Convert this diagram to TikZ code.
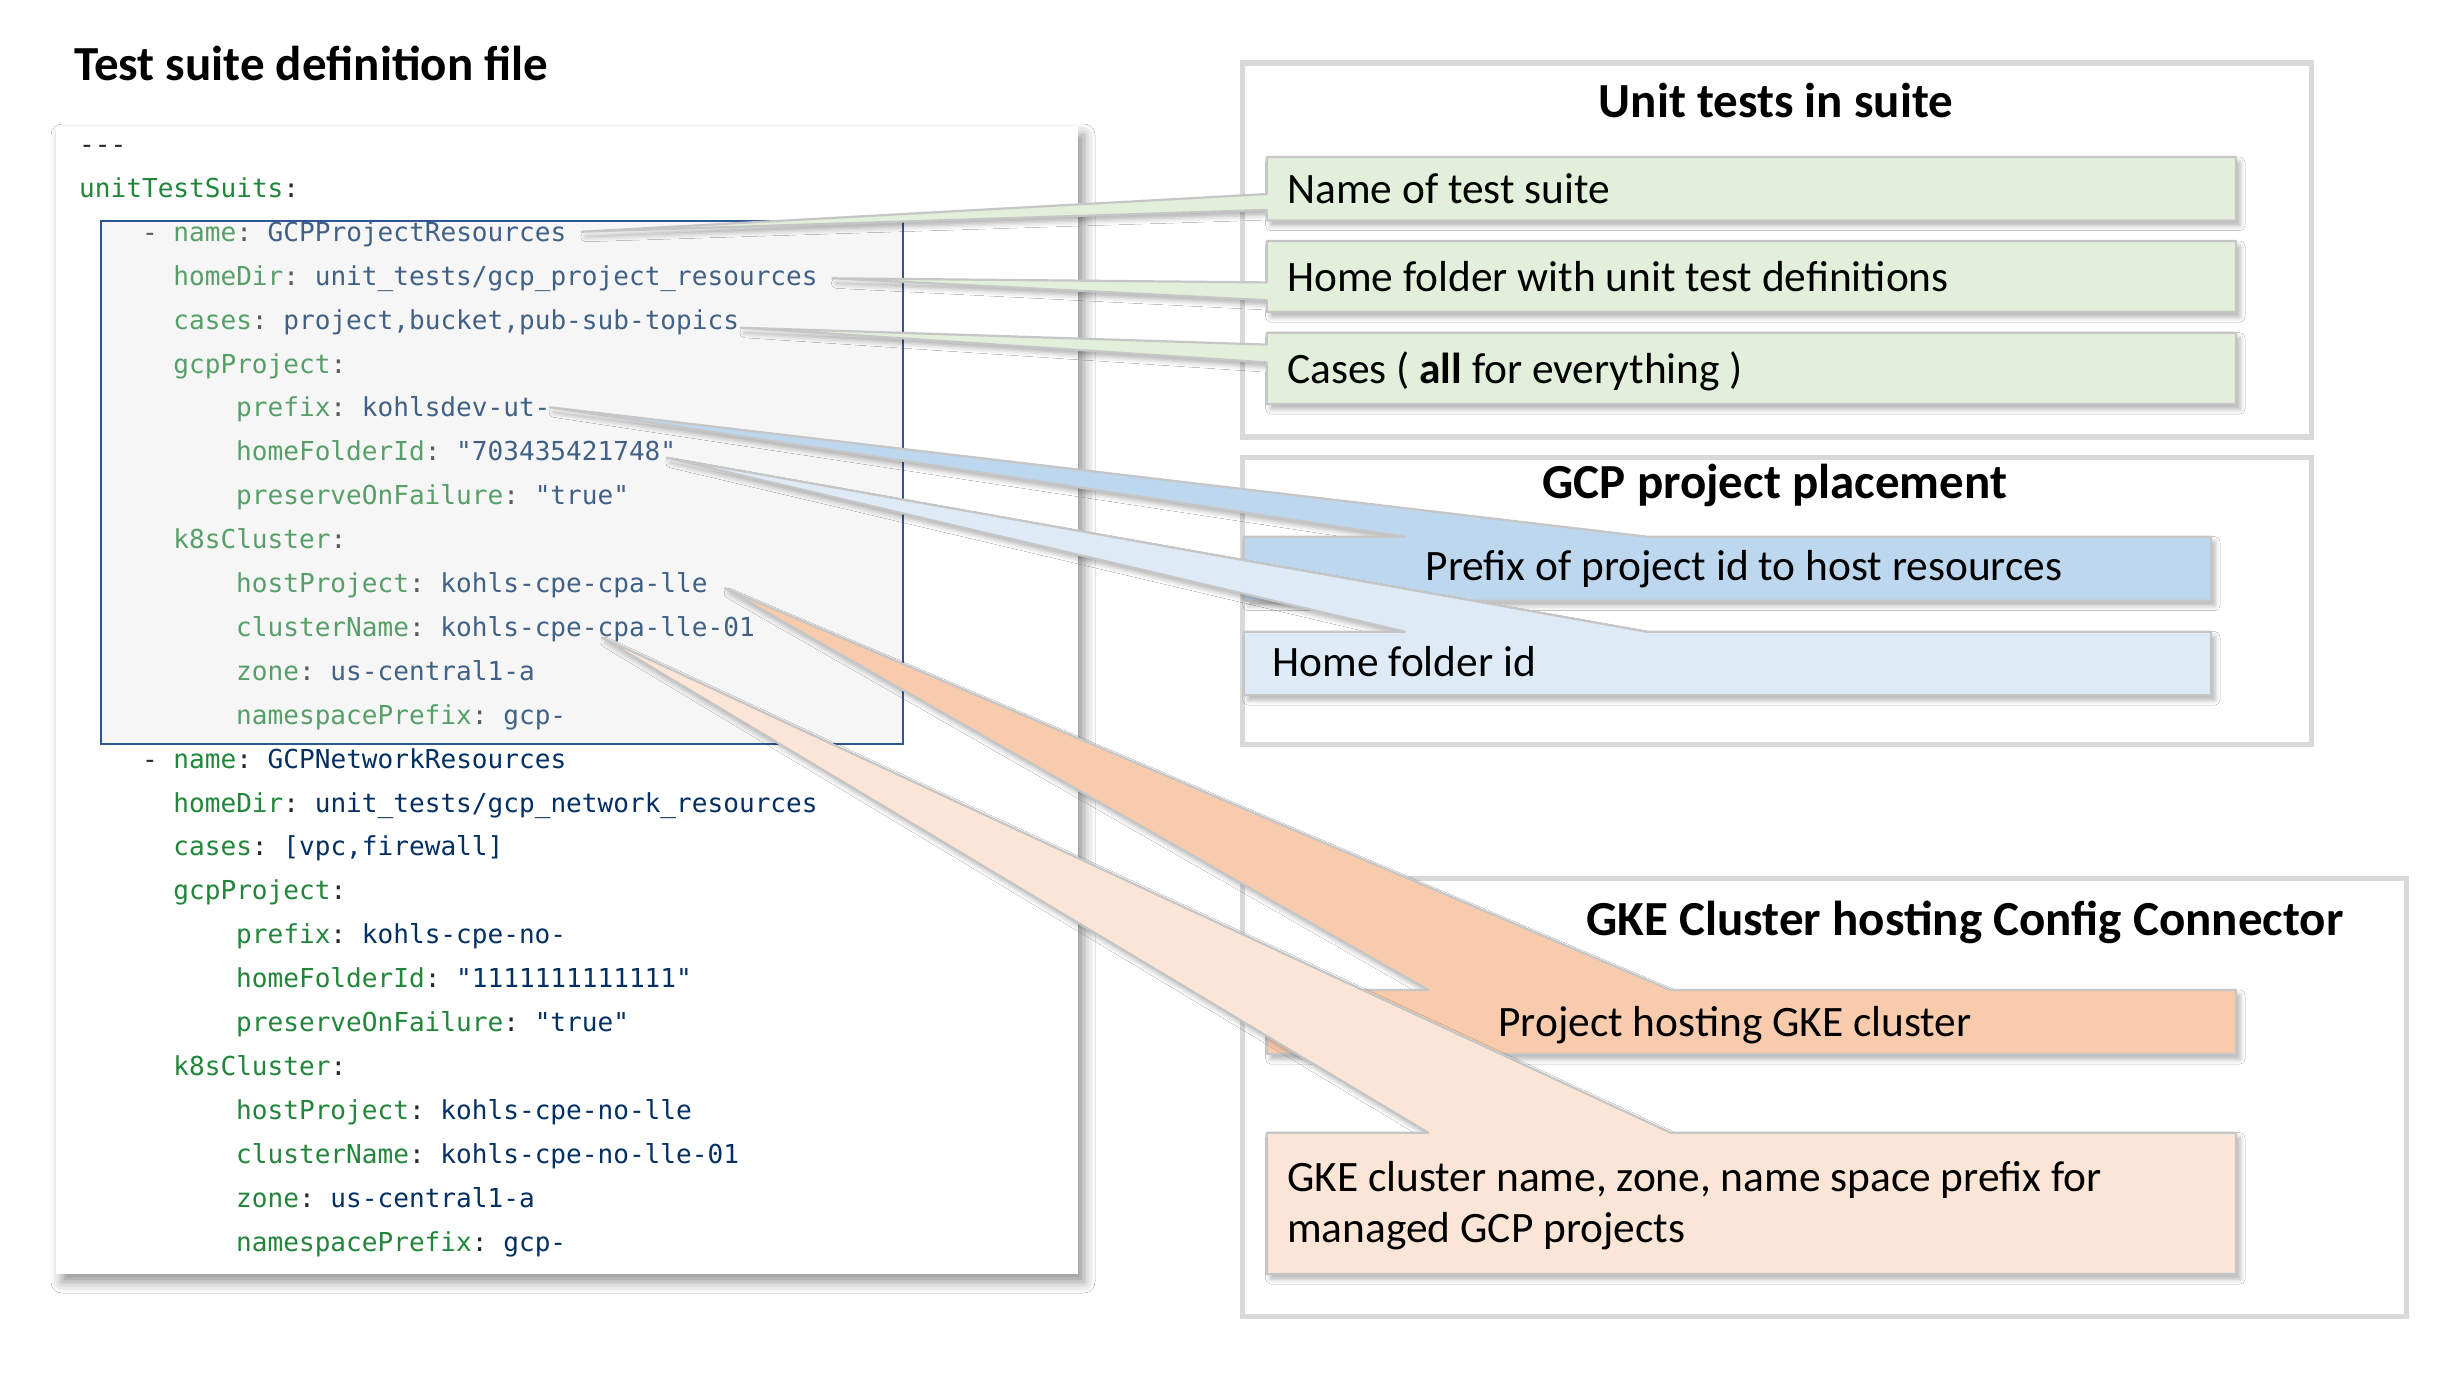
\documentclass[tikz,border=0pt]{standalone}
\usepackage{fontspec}
\setmainfont{Carlito}
\setmonofont{DejaVu Sans Mono}
\usetikzlibrary{calc,shadows.blur}
\definecolor{kgreen}{HTML}{22863A}
\definecolor{vnavy}{HTML}{032F62}
\definecolor{pcol}{HTML}{24292E}
\definecolor{navyb}{HTML}{2F5597}
\definecolor{pgray}{HTML}{D9D9D9}
\definecolor{ogray}{HTML}{C6C6C6}
\definecolor{cgreen}{HTML}{E2EFDA}
\definecolor{cblue}{HTML}{BDD7EE}
\definecolor{clblue}{HTML}{DEEBF7}
\definecolor{corange}{HTML}{F8CBAD}
\definecolor{clorange}{HTML}{FBE5D6}
\definecolor{ovl}{HTML}{E2E2E2}
\newcommand{\ykey}[1]{\textcolor{kgreen}{#1}}
\newcommand{\yval}[1]{\textcolor{vnavy}{#1}}
\newcommand{\ycol}[1]{\textcolor{pcol}{#1}}
\newcommand{\codeln}[3]{\node[code] (c#1) at ({79+15.7*#2},{153.5+43.9*#1}) {#3};}
\begin{document}
\begin{tikzpicture}[x=1pt,y=-1pt,
  code/.style={font=\ttfamily\fontsize{26.1}{30}\selectfont, anchor=base west, inner sep=0pt},
  ttl/.style={font=\fontsize{49}{58}\selectfont\bfseries, inner sep=0pt},
  btxt/.style={font=\fontsize{43.4}{52}\selectfont, inner sep=0pt},
  geo/.style={inner sep=0pt, outer sep=0pt, anchor=north west},
  panel/.style={geo, draw=pgray, line width=5.5pt},
  codebox/.style={geo, fill=white, blur shadow={shadow xshift=6pt, shadow yshift=-8pt, shadow blur radius=11pt, shadow opacity=42}},
  innerbox/.style={geo, draw=navyb, line width=2.2pt, fill=ovl, fill opacity=0.28},
  callout/.style={draw=ogray, line width=2.2pt, line join=round, blur shadow={shadow xshift=4pt, shadow yshift=-5pt, shadow blur radius=5pt, shadow opacity=30}}
]
\useasboundingbox (0,0) rectangle (2452,1376);
\fill[white] (0,0) rectangle (2452,1376);

% left title
\node[ttl, anchor=base west] (ttl1) at (74,80) {Test suite definition file};

% code box
\node[codebox, minimum width=1022pt, minimum height=1147pt] (cb) at (56,127) {};
\codeln{0}{0}{\ycol{---}}
\codeln{1}{0}{\ykey{unitTestSuits}\ycol{:}}
\codeln{2}{4}{\ycol{-} \ykey{name}\ycol{:} \yval{GCPProjectResources}}
\codeln{3}{6}{\ykey{homeDir}\ycol{:} \yval{unit\_tests/gcp\_project\_resources}}
\codeln{4}{6}{\ykey{cases}\ycol{:} \yval{project,bucket,pub-sub-topics}}
\codeln{5}{6}{\ykey{gcpProject}\ycol{:}}
\codeln{6}{10}{\ykey{prefix}\ycol{:} \yval{kohlsdev-ut-}}
\codeln{7}{10}{\ykey{homeFolderId}\ycol{:} \yval{"703435421748"}}
\codeln{8}{10}{\ykey{preserveOnFailure}\ycol{:} \yval{"true"}}
\codeln{9}{6}{\ykey{k8sCluster}\ycol{:}}
\codeln{10}{10}{\ykey{hostProject}\ycol{:} \yval{kohls-cpe-cpa-lle}}
\codeln{11}{10}{\ykey{clusterName}\ycol{:} \yval{kohls-cpe-cpa-lle-01}}
\codeln{12}{10}{\ykey{zone}\ycol{:} \yval{us-central1-a}}
\codeln{13}{10}{\ykey{namespacePrefix}\ycol{:} \yval{gcp-}}
\codeln{14}{4}{\ycol{-} \ykey{name}\ycol{:} \yval{GCPNetworkResources}}
\codeln{15}{6}{\ykey{homeDir}\ycol{:} \yval{unit\_tests/gcp\_network\_resources}}
\codeln{16}{6}{\ykey{cases}\ycol{:} \yval{[vpc,firewall]}}
\codeln{17}{6}{\ykey{gcpProject}\ycol{:}}
\codeln{18}{10}{\ykey{prefix}\ycol{:} \yval{kohls-cpe-no-}}
\codeln{19}{10}{\ykey{homeFolderId}\ycol{:} \yval{"1111111111111"}}
\codeln{20}{10}{\ykey{preserveOnFailure}\ycol{:} \yval{"true"}}
\codeln{21}{6}{\ykey{k8sCluster}\ycol{:}}
\codeln{22}{10}{\ykey{hostProject}\ycol{:} \yval{kohls-cpe-no-lle}}
\codeln{23}{10}{\ykey{clusterName}\ycol{:} \yval{kohls-cpe-no-lle-01}}
\codeln{24}{10}{\ykey{zone}\ycol{:} \yval{us-central1-a}}
\codeln{25}{10}{\ykey{namespacePrefix}\ycol{:} \yval{gcp-}}
\node[innerbox, minimum width=802.3pt, minimum height=523.3pt] (ib) at (100.7,220.7) {};

% panels
\node[panel, minimum width=1069pt, minimum height=374pt] (p1) at (1242.5,63) {};
\node[panel, minimum width=1069pt, minimum height=287pt] (p2) at (1242.5,457.5) {};
\node[panel, minimum width=1164pt, minimum height=438pt] (p3) at (1242.5,878.5) {};
\node[ttl, anchor=base] (ttl2) at (1776,117) {Unit tests in suite};
\node[ttl, anchor=base] (ttl3) at (1775,498) {GCP project placement};
\node[ttl, anchor=base] (ttl4) at (1965,935) {GKE Cluster hosting Config Connector};

% tips
\coordinate (tG1) at (581.7,231.7);
\coordinate (tG2) at (832.3,278.3);
\coordinate (tG3) at (740.7,327.7);
\coordinate (tB1) at (550,407.3);
\coordinate (tB2) at (666.7,457.7);
\coordinate (tO1) at (725,588.3);
\coordinate (tO2) at (601.7,637.3);

% box geometry
\node[geo, minimum width=969.3pt, minimum height=63.5pt] (g1) at (1266.7,157) {};
\node[geo, minimum width=969.3pt, minimum height=71pt] (g2) at (1266.7,241) {};
\node[geo, minimum width=969.3pt, minimum height=71.3pt] (g3) at (1266.7,332.7) {};
\node[geo, minimum width=967.2pt, minimum height=64pt] (b1) at (1243.8,536.7) {};
\node[geo, minimum width=967.2pt, minimum height=63.3pt] (b2) at (1243.8,631.7) {};
\node[geo, minimum width=969.3pt, minimum height=64pt] (o1) at (1266.7,990) {};
\node[geo, minimum width=969.3pt, minimum height=141.3pt] (o2) at (1266.7,1132.7) {};

% green callouts
\path[callout, fill=cgreen] (g1.north west) -- (g1.north east) -- (g1.south east) -- (g1.south west)
  -- ($(g1.north west)!10/12!(g1.south west)$) -- (tG1) -- ($(g1.north west)!7/12!(g1.south west)$) -- cycle;
\node[btxt, anchor=base west] (x1) at (1287,203) {Name of test suite};
\path[callout, fill=cgreen] (g2.north west) -- (g2.north east) -- (g2.south east) -- (g2.south west)
  -- ($(g2.north west)!10/12!(g2.south west)$) -- (tG2) -- ($(g2.north west)!7/12!(g2.south west)$) -- cycle;
\node[btxt, anchor=base west] (x2) at (1287,291) {Home folder with unit test definitions};
\path[callout, fill=cgreen] (g3.north west) -- (g3.north east) -- (g3.south east) -- (g3.south west)
  -- ($(g3.north west)!5/12!(g3.south west)$) -- (tG3) -- ($(g3.north west)!2/12!(g3.south west)$) -- cycle;
\node[btxt, anchor=base west] (x3) at (1287,383) {Cases ( \textbf{all} for everything )};

% blue callouts
\path[callout, fill=cblue] (b1.north west) -- ($(b1.north west)!2/12!(b1.north east)$) -- (tB1)
  -- ($(b1.north west)!5/12!(b1.north east)$) -- (b1.north east) -- (b1.south east) -- (b1.south west) -- cycle;
\node[btxt, anchor=base] (x4) at (1744,580) {Prefix of project id to host resources};
\path[callout, fill=clblue] (b2.north west) -- ($(b2.north west)!2/12!(b2.north east)$) -- (tB2)
  -- ($(b2.north west)!5/12!(b2.north east)$) -- (b2.north east) -- (b2.south east) -- (b2.south west) -- cycle;
\node[btxt, anchor=base west] (x5) at (1272.5,676) {Home folder id};

% orange callouts
\path[callout, fill=corange] (o1.north west) -- ($(o1.north west)!2/12!(o1.north east)$) -- (tO1)
  -- ($(o1.north west)!5/12!(o1.north east)$) -- (o1.north east) -- (o1.south east) -- (o1.south west) -- cycle;
\node[btxt, anchor=base] (x6) at (1735,1036) {Project hosting GKE cluster};
\path[callout, fill=clorange] (o2.north west) -- ($(o2.north west)!2/12!(o2.north east)$) -- (tO2)
  -- ($(o2.north west)!5/12!(o2.north east)$) -- (o2.north east) -- (o2.south east) -- (o2.south west) -- cycle;
\node[btxt, anchor=base west] (x7a) at (1287,1191.6) {GKE cluster name, zone, name space prefix for};
\node[btxt, anchor=base west] (x7b) at (1287,1242) {managed GCP projects};
\end{tikzpicture}
\end{document}
